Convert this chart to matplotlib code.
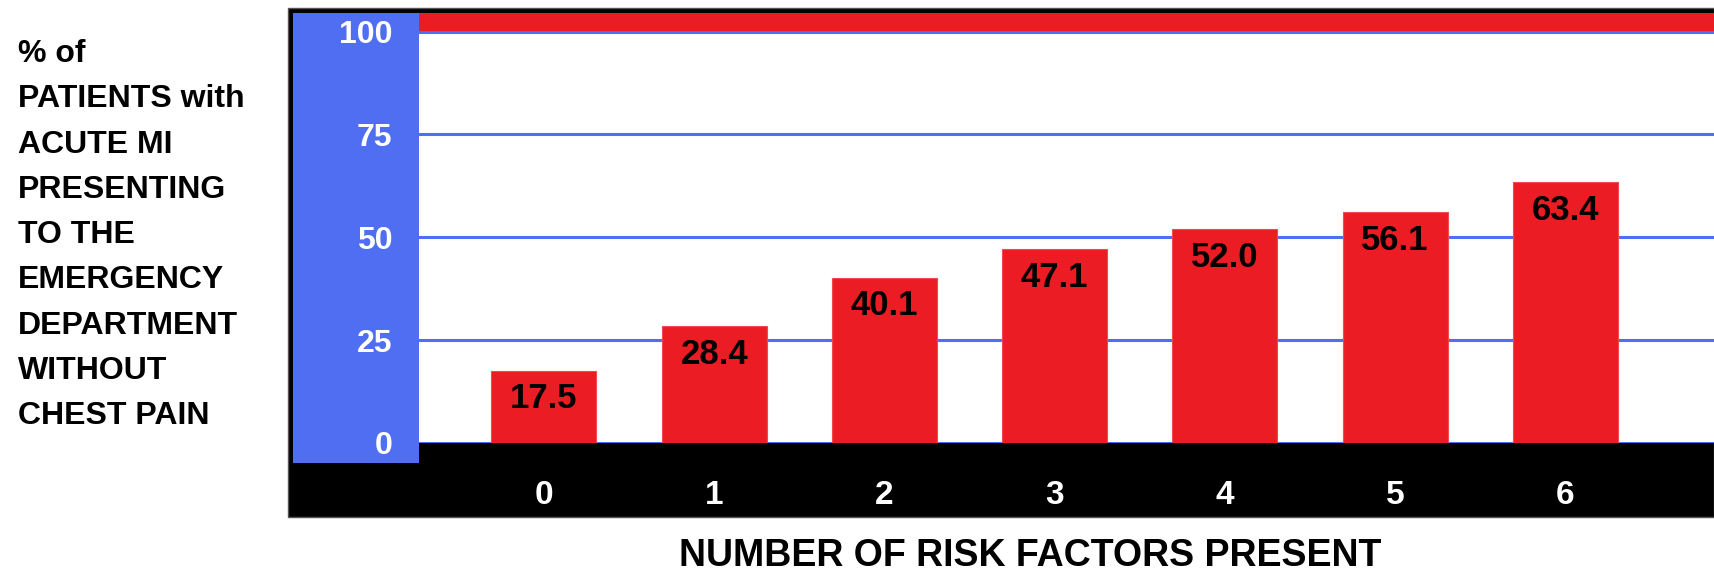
import matplotlib.pyplot as plt
from matplotlib.patches import Rectangle

risk_factors = [0, 1, 2, 3, 4, 5, 6]
pct_no_chest_pain = [17.5, 28.4, 40.1, 47.1, 52.0, 56.1, 63.4]
value_labels = ["17.5", "28.4", "40.1", "47.1", "52.0", "56.1", "63.4"]
y_ticks = [0, 25, 50, 75, 100]

ylabel_text = ("% of\nPATIENTS with\nACUTE MI\nPRESENTING\nTO THE\n"
               "EMERGENCY\nDEPARTMENT\nWITHOUT\nCHEST PAIN")
xlabel_text = "NUMBER OF RISK FACTORS PRESENT"

RED = "#ec1c24"
BLUE = "#506ef2"

plt.rcParams['font.family'] = ['Liberation Sans', 'DejaVu Sans']

W, H = 1714, 578
fig = plt.figure(figsize=(W / 100, H / 100), dpi=100)


def fx(px):
    return px / W


def fy(py):
    return 1 - py / H


# black frame + bottom band, blue panel on the left
fig.patches.append(Rectangle((fx(288), fy(517)), fx(W) - fx(288), fy(8) - fy(517),
                             transform=fig.transFigure, facecolor="black",
                             edgecolor="#555555", lw=1, zorder=-10))
fig.patches.append(Rectangle((fx(293), fy(463)), fx(419) - fx(293), fy(13) - fy(463),
                             transform=fig.transFigure, facecolor=BLUE,
                             edgecolor="none", zorder=-9))

ax = fig.add_axes([fx(419), fy(443), 1 - fx(419), fy(13) - fy(443)])
ax.set_facecolor("white")
ax.set_xlim(-0.734, 6.874)
ax.set_ylim(0, 104.5)

ax.axhspan(100, 104.5, color=RED, zorder=1, lw=0)
for v in y_ticks:
    ax.axhline(v, color=BLUE, lw=2.2, zorder=1.5)

bars = ax.bar(risk_factors, pct_no_chest_pain, width=0.617, color=RED,
              edgecolor="#f04a50", linewidth=0.8, zorder=2)
for x, v, lab in zip(risk_factors, pct_no_chest_pain, value_labels):
    ax.annotate(lab, (x, v), xytext=(0, -28), textcoords="offset pixels",
                ha="center", va="center", fontsize=25, fontweight="bold",
                color="black", zorder=3)

for s in ax.spines.values():
    s.set_visible(False)

ax.set_yticks(y_ticks)
ax.set_yticklabels([str(v) for v in y_ticks])
ax.set_xticks(risk_factors)
ax.set_xticklabels([str(v) for v in risk_factors])
ax.tick_params(axis="y", length=0, pad=19, labelsize=23, labelcolor="white")
ax.tick_params(axis="x", length=0, pad=27, labelsize=24, labelcolor="white")
for t in ax.get_xticklabels() + ax.get_yticklabels():
    t.set_fontweight("bold")

fig.text(fx(18), fy(39), ylabel_text, ha="left", va="top", fontsize=23,
         fontweight="bold", linespacing=1.665)

fig.text(fx(1030), fy(556), xlabel_text, ha="center", va="center",
         fontsize=27, fontweight="bold")

fig.savefig("out.png", dpi=100)
